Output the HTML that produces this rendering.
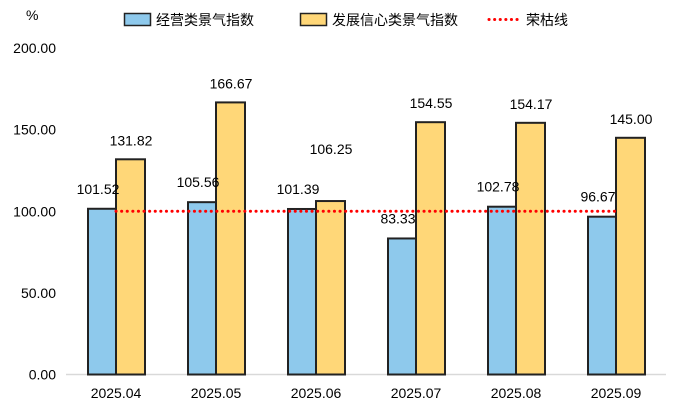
<!DOCTYPE html>
<html><head><meta charset="utf-8"><style>
body{margin:0;background:#fff;}
svg text{font-family:"Liberation Sans","Noto Sans CJK SC",sans-serif;fill:#000;}
</style></head><body>
<svg id="chart" width="674" height="409" xmlns="http://www.w3.org/2000/svg">
<text x="26" y="20" font-size="14">%</text>
<g>
<rect x="124.5" y="13.5" width="26" height="12" fill="#8ec9ec" stroke="#222" stroke-width="1.5"/>
<text x="156" y="25" font-size="14">经营类景气指数</text>
<rect x="300.5" y="13.5" width="26" height="12" fill="#ffd778" stroke="#222" stroke-width="1.5"/>
<text x="332" y="25" font-size="14">发展信心类景气指数</text>
<line x1="489" y1="19.5" x2="519" y2="19.5" stroke="#f00" stroke-width="3" stroke-dasharray="0.1 5.5" stroke-linecap="round"/>
<text x="526" y="25" font-size="14">荣枯线</text>
</g>
<g id="axes"></g><g id="bars"></g><g id="labels"></g>
</svg>
<script>
const categories=["2025.04","2025.05","2025.06","2025.07","2025.08","2025.09"];
const operating=[101.52,105.56,101.39,83.33,102.78,96.67];
const confidence=[131.82,166.67,106.25,154.55,154.17,145.00];
const threshold=100;
const yTicks=[0,50,100,150,200];
const NS="http://www.w3.org/2000/svg";
const svg=document.getElementById('chart');
const y0=374.5,y200=48;
function y(v){return y0-(y0-y200)*v/200;}
function x(i){return 116+100*i;}
function mk(tag,attrs,parent,txt){const e=document.createElementNS(NS,tag);for(const k in attrs)e.setAttribute(k,attrs[k]);if(txt!==undefined)e.textContent=txt;document.getElementById(parent).appendChild(e);return e;}
const ax=mk('line',{x1:66,x2:666,y1:y0,y2:y0,stroke:'#d9d9d9','stroke-width':1.5},'axes');


yTicks.forEach(t=>{const e=mk('text',{x:56,y:y(t)+5,'font-size':14,'text-anchor':'end'},'axes',t.toFixed(2));

});
categories.forEach((c,i)=>{const e=mk('text',{x:x(i),y:398,'font-size':14,'text-anchor':'middle'},'axes',c);


const b1=mk('rect',{x:x(i)-28,y:y(operating[i]),width:28,height:y0-y(operating[i]),fill:'#8ec9ec',stroke:'#222','stroke-width':2},'bars');


const b2=mk('rect',{x:x(i),y:y(confidence[i]),width:29,height:y0-y(confidence[i]),fill:'#ffd778',stroke:'#222','stroke-width':2},'bars');


const ly1=y(operating[i])-15;
let ly2=y(confidence[i])-14;
if(Math.abs(ly2-ly1)<22) ly2=ly1-40;
const l1=mk('text',{x:x(i)-18,y:ly1,'font-size':14,'text-anchor':'middle'},'labels',operating[i].toFixed(2));


const l2=mk('text',{x:x(i)+15,y:ly2,'font-size':14,'text-anchor':'middle'},'labels',confidence[i].toFixed(2));

});
const th=mk('line',{x1:x(0),x2:x(categories.length-1),y1:y(threshold),y2:y(threshold),stroke:'#f00','stroke-width':3,'stroke-dasharray':'0.1 5.5','stroke-linecap':'round'},'bars');


</script>
</body></html>
